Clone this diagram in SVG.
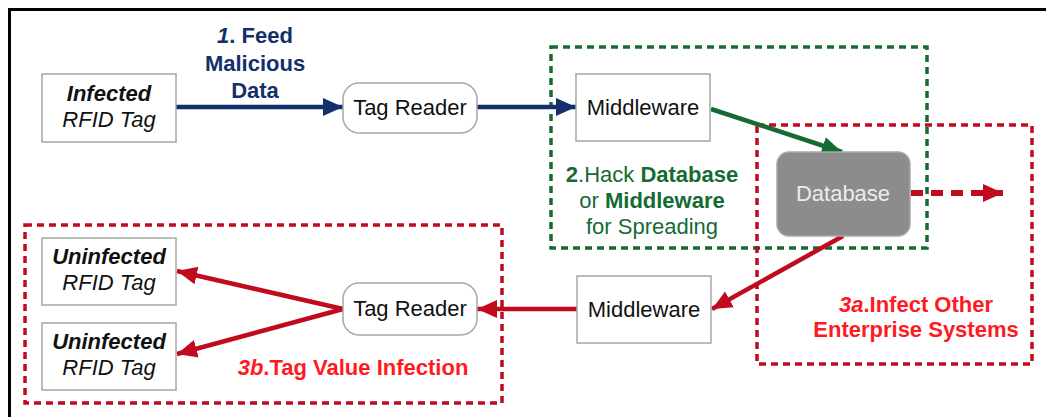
<svg xmlns="http://www.w3.org/2000/svg" width="1047" height="417" viewBox="0 0 1047 417">
<defs>
<style>
text{font-family:"Liberation Sans",Arial,sans-serif;font-size:22px;text-anchor:middle}
.box{fill:#fff;stroke:#a6a6a6;stroke-width:1.5}
.blk{fill:#111}
.b{font-weight:bold}
.i{font-style:italic}
.navy{fill:#13306a}
.grn{fill:#156b33}
.red{fill:#ff1a22}
.gd{fill:none;stroke:#156b33;stroke-width:3.5;stroke-dasharray:7 5}
.rd{fill:none;stroke:#c00a1e;stroke-width:3.5;stroke-dasharray:7 5}
.cn{fill:none;stroke-width:4.5}
</style>
<marker id="an" markerUnits="userSpaceOnUse" markerWidth="22" markerHeight="20" refX="20" refY="10" orient="auto"><path d="M0,1 L20,10 L0,19 Z" fill="#13306a"/></marker>
<marker id="ag" markerUnits="userSpaceOnUse" markerWidth="22" markerHeight="20" refX="20" refY="10" orient="auto"><path d="M0,1 L20,10 L0,19 Z" fill="#156b33"/></marker>
<marker id="ar" markerUnits="userSpaceOnUse" markerWidth="22" markerHeight="20" refX="20" refY="10" orient="auto"><path d="M0,1 L20,10 L0,19 Z" fill="#c00a1e"/></marker>
</defs>
<rect width="1047" height="417" fill="#fff"/>
<path d="M9.5,417 V9.5 H1046" fill="none" stroke="#000" stroke-width="3"/>

<g id="regions">
<rect class="gd" x="551" y="47" width="376" height="201"/>
<rect class="rd" x="757" y="125" width="275" height="239"/>
<rect class="rd" x="25" y="225" width="477" height="178"/>
</g>

<g id="connectors">
<line class="cn" x1="176" y1="107" x2="343" y2="107" stroke="#13306a" marker-end="url(#an)"/>
<line class="cn" x1="477" y1="107" x2="576" y2="107" stroke="#13306a" marker-end="url(#an)"/>
<line class="cn" x1="711" y1="109" x2="842" y2="152" stroke="#156b33" marker-end="url(#ag)"/>
<line x1="911" y1="193" x2="1003" y2="193" stroke="#c00a1e" stroke-width="6" stroke-dasharray="12 8" marker-end="url(#ar)"/>
<line class="cn" x1="843" y1="236" x2="712" y2="309" stroke="#c00a1e" marker-end="url(#ar)"/>
<line class="cn" x1="577" y1="309" x2="477" y2="309" stroke="#c00a1e" marker-end="url(#ar)"/>
<line class="cn" x1="343" y1="309" x2="177" y2="271" stroke="#c00a1e" marker-end="url(#ar)"/>
<line class="cn" x1="343" y1="309" x2="177" y2="354" stroke="#c00a1e" marker-end="url(#ar)"/>
</g>

<g id="infected-tag">
<rect class="box" x="42" y="74" width="134" height="68"/>
<text class="blk b i" x="109" y="101">Infected</text>
<text class="blk i" x="109" y="127">RFID Tag</text>
</g>

<g id="label-1">
<text class="navy b" x="255" y="43"><tspan class="i">1</tspan>. Feed</text>
<text class="navy b" x="255" y="71">Malicious</text>
<text class="navy b" x="255" y="98">Data</text>
</g>

<g id="tag-reader-top">
<rect class="box" x="343" y="83" width="134" height="50" rx="16"/>
<text class="blk" x="410" y="115">Tag Reader</text>
</g>

<g id="middleware-top">
<rect class="box" x="576" y="74" width="134" height="67"/>
<text class="blk" x="643" y="115">Middleware</text>
</g>

<g id="database">
<rect x="777" y="152" width="133" height="84" rx="12" fill="#8c8c8c" stroke="#a8a8a8" stroke-width="1.5"/>
<text x="843" y="201" fill="#ececec">Database</text>
</g>

<g id="label-2">
<text class="grn" x="652" y="182"><tspan class="b">2</tspan>.Hack <tspan class="b">Database</tspan></text>
<text class="grn" x="652" y="208">or <tspan class="b">Middleware</tspan></text>
<text class="grn" x="652" y="234">for Spreading</text>
</g>

<g id="label-3a">
<text class="red b" x="916" y="312"><tspan class="i">3a</tspan>.Infect Other</text>
<text class="red b" x="916" y="337">Enterprise Systems</text>
</g>

<g id="middleware-bottom">
<rect class="box" x="577" y="276" width="134" height="67"/>
<text class="blk" x="644" y="317">Middleware</text>
</g>

<g id="tag-reader-bottom">
<rect class="box" x="343" y="283" width="134" height="52" rx="16"/>
<text class="blk" x="410" y="316">Tag Reader</text>
</g>

<g id="uninfected-tag-1">
<rect class="box" x="42" y="238" width="134" height="67"/>
<text class="blk b i" x="109" y="264">Uninfected</text>
<text class="blk i" x="109" y="290">RFID Tag</text>
</g>

<g id="uninfected-tag-2">
<rect class="box" x="42" y="323" width="134" height="67"/>
<text class="blk b i" x="109" y="349">Uninfected</text>
<text class="blk i" x="109" y="375">RFID Tag</text>
</g>

<g id="label-3b">
<text class="red b" x="353" y="375"><tspan class="i">3b</tspan>.Tag Value Infection</text>
</g>
</svg>
